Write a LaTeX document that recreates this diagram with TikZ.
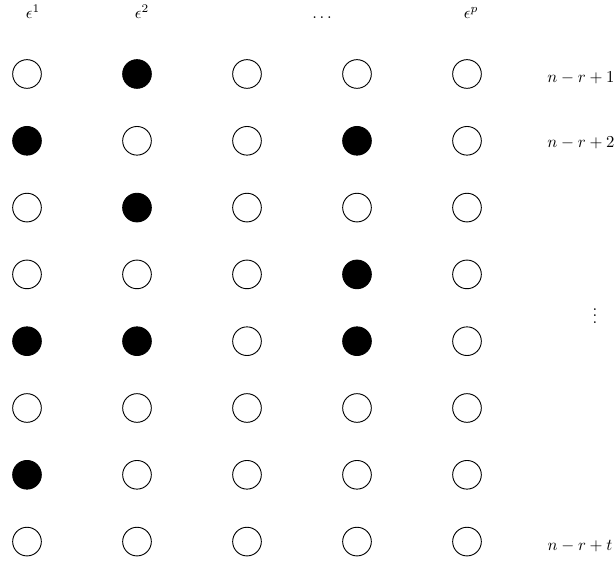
\documentclass[tikz,border=0pt]{standalone}
\begin{document}
\begin{tikzpicture}[x=0.6pt,y=-0.6pt,
  dot/.style={circle,draw=black,line width=0.55pt,minimum size=17.2pt,inner sep=0pt},
  empty/.style={dot,fill=white},
  full/.style={dot,fill=black},
  lab/.style={anchor=base,inner sep=0pt}]
\useasboundingbox (0,0) rectangle (614,566);
% column headers
\node[lab] (h1) at (33,19) {$\epsilon^1$};
\node[lab] (h2) at (142,19) {$\epsilon^2$};
\node[lab] (h3) at (322,19) {$\ldots$};
\node[lab] (hp) at (471,19) {$\epsilon^p$};
% grid
\foreach \r/\pat in {1/{0,1,0,0,0},2/{1,0,0,1,0},3/{0,1,0,0,0},4/{0,0,0,1,0},5/{1,1,0,1,0},6/{0,0,0,0,0},7/{1,0,0,0,0},8/{0,0,0,0,0}}{
  \foreach \f [count=\c] in \pat {
    \pgfmathsetmacro{\xx}{27+110*(\c-1)}
    \pgfmathsetmacro{\yy}{74+66.8*(\r-1)}
    \ifnum\f=1
      \node[full] (c\r-\c) at (\xx,\yy) {};
    \else
      \node[empty] (c\r-\c) at (\xx,\yy) {};
    \fi
  }
}
% row labels
\node[lab] (r1) at (581,83) {$n-r+1$};
\node[lab] (r2) at (581,148) {$n-r+2$};
\node[inner sep=0pt] (rv) at (595,311) {$\vdots$};
\node[lab] (rt) at (580,551) {$n-r+t$};
\end{tikzpicture}
\end{document}
